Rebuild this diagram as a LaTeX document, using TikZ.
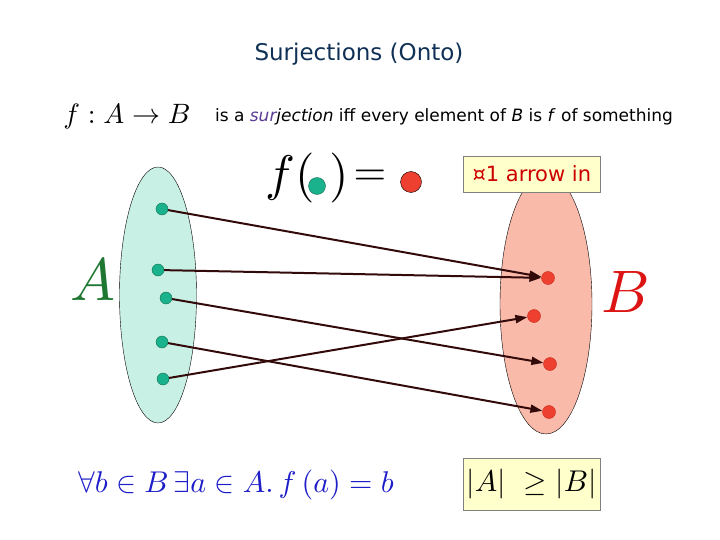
\documentclass[tikz,border=0pt]{standalone}
\usepackage{fontspec}
\setsansfont{DejaVu Sans}
\usetikzlibrary{positioning,arrows.meta,shapes.geometric}

\definecolor{titleblue}{RGB}{16,48,86}
\definecolor{setAfill}{RGB}{200,240,228}
\definecolor{setBfill}{RGB}{250,186,170}
\definecolor{dotA}{RGB}{26,178,140}
\definecolor{dotAedge}{RGB}{20,110,80}
\definecolor{dotB}{RGB}{238,64,48}
\definecolor{dotBedge}{RGB}{200,40,30}
\definecolor{arrowdark}{RGB}{50,10,10}
\definecolor{labelA}{RGB}{30,120,50}
\definecolor{labelB}{RGB}{220,20,20}
\definecolor{noteyellow}{RGB}{255,255,204}
\definecolor{notered}{RGB}{204,0,0}
\definecolor{formblue}{RGB}{30,30,200}
\definecolor{surcol}{RGB}{90,60,150}

\begin{document}
\begin{tikzpicture}[
x=1pt,y=-1pt,
adot/.style={circle,draw=dotAedge,fill=dotA,inner sep=0pt,minimum size=12pt},
bdot/.style={circle,draw=dotBedge,fill=dotB,inner sep=0pt,minimum size=13pt},
link/.style={draw=arrowdark,line width=2pt,-{Triangle[length=12pt,width=8pt]}},
notebox/.style={draw=gray,fill=noteyellow,inner sep=0pt},
setshape/.style={ellipse,draw=black,inner sep=0pt}
]
\useasboundingbox (0,0) rectangle (720,540);

% heading
\node[font=\sffamily\fontsize{23}{27}\selectfont,text=titleblue] (title) at (359,54) {Surjections (Onto)};
\node (map) at (127,117) {\scalebox{2.8}{$f: A\to B$}};
\node[font=\sffamily\fontsize{17}{20}\selectfont] (defn) at (444,117)
{is a \textit{\textcolor{surcol}{sur}jection} iff every element of \textit{B} is \textit{f} of something};

% the two sets
\node[setshape,fill=setAfill,minimum width=77pt,minimum height=256pt] (setA) at (158,295) {};
\node[setshape,fill=setBfill,minimum width=92pt,minimum height=260pt] (setB) at (546,304) {};
\node[text=labelA] (labA) at (93,280) {\scalebox{6}{$A$}};
\node[text=labelB] (labB) at (626,292) {\scalebox{6}{$B$}};

% f(.) = .
\node (fopen) at (290,178) {\scalebox{5}{$f($}};
\node[adot,minimum size=17pt] (fin) at (317,186) {};
\node (fclose) at (339,178) {\scalebox{5}{$)$}};
\node (eq) at (370,178) {\scalebox{4.2}{$=$}};
\node[bdot,draw=black,minimum size=21pt] (fout) at (411,182) {};

\node[notebox,minimum width=137pt,minimum height=36pt] (note) at (531.5,174) {};
\node[font=\sffamily\fontsize{21}{25}\selectfont,text=notered,anchor=west] (notetext) at (469,174) {¤1 arrow in};

% elements
\node[adot] (a1) at (162,209) {};
\node[adot] (a2) at (158,270) {};
\node[adot] (a3) at (166,298) {};
\node[adot] (a4) at (162,342) {};
\node[adot] (a5) at (163,379) {};
\node[bdot] (b1) at (548,278) {};
\node[bdot] (b2) at (534,316) {};
\node[bdot] (b3) at (550,364) {};
\node[bdot] (b4) at (549,412) {};

\draw[link] (a1) -- (b1);
\draw[link] (a2) -- (b1);
\draw[link] (a3) -- (b3);
\draw[link] (a4) -- (b4);
\draw[link] (a5) -- (b2);

% bottom
\node[text=formblue] (forall) at (236,485) {\scalebox{3}{$\forall b\in B\,\exists a\in A.\,f\,(a)=b$}};
\node[notebox,minimum width=137pt,minimum height=52pt] (card) at (531.5,484) {\scalebox{3}{$|A|\ \geq|B|$}};

\end{tikzpicture}
\end{document}
